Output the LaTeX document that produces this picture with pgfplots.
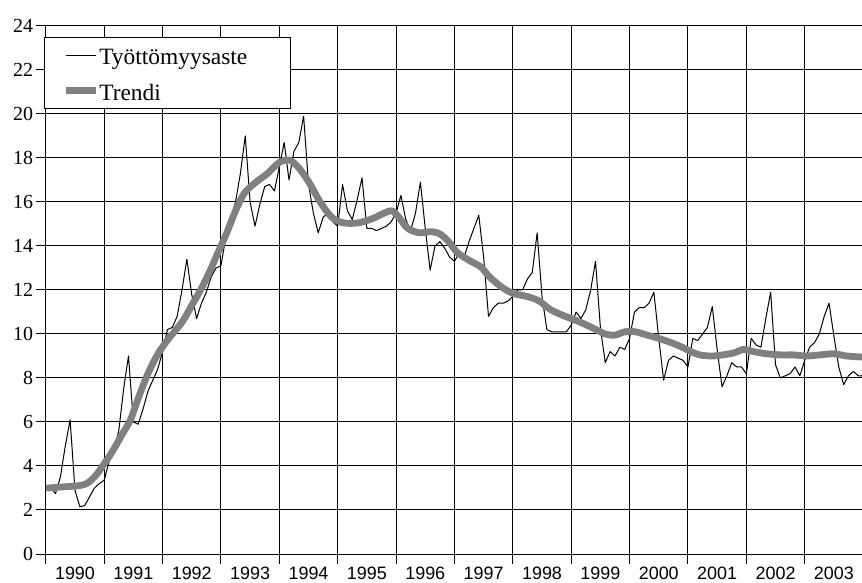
\documentclass[border=0pt]{standalone}
\usepackage{fontspec}
\setmainfont{Liberation Serif}
\setsansfont{Liberation Sans}
\usepackage{pgfplots}
\usepackage{pgfplotstable}
\pgfplotsset{compat=1.18}
\definecolor{trendgray}{RGB}{128,128,128}
\pgfplotsset{
  thinleg/.style={legend image code/.code={\path (-2.5bp,0bp) -- (27.5bp,0bp);\draw[##1, line cap=butt] (0bp,0bp) -- (25bp,0bp);}},
  thickleg/.style={legend image code/.code={\draw[##1, line cap=butt] (-2.5bp,0bp) -- (27.5bp,0bp);}},
}

\pgfplotstableread[row sep=\\]{
yr mo u\\
1990 1 3.0\\ 1990 2 2.75\\ 1990 3 3.5\\ 1990 4 4.9\\ 1990 5 6.1\\ 1990 6 2.9\\ 1990 7 2.15\\ 1990 8 2.2\\ 1990 9 2.6\\ 1990 10 3.0\\ 1990 11 3.2\\ 1990 12 3.35\\
1991 1 4.2\\ 1991 2 4.7\\ 1991 3 5.6\\ 1991 4 7.5\\ 1991 5 9.0\\ 1991 6 6.0\\ 1991 7 5.9\\ 1991 8 6.6\\ 1991 9 7.4\\ 1991 10 7.9\\ 1991 11 8.4\\ 1991 12 9.2\\
1992 1 10.2\\ 1992 2 10.3\\ 1992 3 10.8\\ 1992 4 12.0\\ 1992 5 13.4\\ 1992 6 11.8\\ 1992 7 10.7\\ 1992 8 11.4\\ 1992 9 11.9\\ 1992 10 12.6\\ 1992 11 13.0\\ 1992 12 13.1\\
1993 1 14.4\\ 1993 2 15.2\\ 1993 3 16.0\\ 1993 4 17.3\\ 1993 5 19.0\\ 1993 6 16.0\\ 1993 7 14.9\\ 1993 8 15.9\\ 1993 9 16.7\\ 1993 10 16.8\\ 1993 11 16.5\\ 1993 12 17.6\\
1994 1 18.7\\ 1994 2 17.0\\ 1994 3 18.3\\ 1994 4 18.7\\ 1994 5 19.9\\ 1994 6 16.8\\ 1994 7 15.5\\ 1994 8 14.6\\ 1994 9 15.3\\ 1994 10 15.5\\ 1994 11 15.1\\ 1994 12 14.9\\
1995 1 16.8\\ 1995 2 15.6\\ 1995 3 15.2\\ 1995 4 16.1\\ 1995 5 17.1\\ 1995 6 14.8\\ 1995 7 14.8\\ 1995 8 14.7\\ 1995 9 14.8\\ 1995 10 14.9\\ 1995 11 15.1\\ 1995 12 15.5\\
1996 1 16.3\\ 1996 2 15.2\\ 1996 3 14.7\\ 1996 4 15.5\\ 1996 5 16.9\\ 1996 6 14.8\\ 1996 7 12.9\\ 1996 8 14.0\\ 1996 9 14.2\\ 1996 10 13.9\\ 1996 11 13.5\\ 1996 12 13.3\\
1997 1 13.7\\ 1997 2 13.5\\ 1997 3 14.2\\ 1997 4 14.8\\ 1997 5 15.4\\ 1997 6 13.5\\ 1997 7 10.8\\ 1997 8 11.2\\ 1997 9 11.4\\ 1997 10 11.4\\ 1997 11 11.5\\ 1997 12 11.7\\
1998 1 12.0\\ 1998 2 12.0\\ 1998 3 12.5\\ 1998 4 12.8\\ 1998 5 14.6\\ 1998 6 11.7\\ 1998 7 10.2\\ 1998 8 10.1\\ 1998 9 10.1\\ 1998 10 10.1\\ 1998 11 10.1\\ 1998 12 10.4\\
1999 1 11.0\\ 1999 2 10.7\\ 1999 3 11.1\\ 1999 4 12.0\\ 1999 5 13.3\\ 1999 6 10.3\\ 1999 7 8.7\\ 1999 8 9.2\\ 1999 9 9.0\\ 1999 10 9.4\\ 1999 11 9.3\\ 1999 12 9.8\\
2000 1 11.0\\ 2000 2 11.2\\ 2000 3 11.2\\ 2000 4 11.4\\ 2000 5 11.9\\ 2000 6 9.8\\ 2000 7 7.9\\ 2000 8 8.8\\ 2000 9 9.0\\ 2000 10 8.9\\ 2000 11 8.8\\ 2000 12 8.5\\
2001 1 9.8\\ 2001 2 9.7\\ 2001 3 10.0\\ 2001 4 10.3\\ 2001 5 11.25\\ 2001 6 9.3\\ 2001 7 7.6\\ 2001 8 8.1\\ 2001 9 8.7\\ 2001 10 8.5\\ 2001 11 8.5\\ 2001 12 8.2\\
2002 1 9.8\\ 2002 2 9.5\\ 2002 3 9.4\\ 2002 4 10.7\\ 2002 5 11.9\\ 2002 6 8.6\\ 2002 7 8.0\\ 2002 8 8.1\\ 2002 9 8.2\\ 2002 10 8.5\\ 2002 11 8.1\\ 2002 12 8.8\\
2003 1 9.4\\ 2003 2 9.6\\ 2003 3 10.0\\ 2003 4 10.8\\ 2003 5 11.4\\ 2003 6 9.9\\ 2003 7 8.5\\ 2003 8 7.7\\ 2003 9 8.1\\ 2003 10 8.3\\ 2003 11 8.1\\ 2003 12 8.1\\
}\rate

\pgfplotstableread[row sep=\\]{
x y\\
1990.04 3.0\\ 1990.3 3.05\\ 1990.55 3.1\\ 1990.7 3.2\\ 1990.85 3.55\\
1991.0 4.1\\ 1991.15 4.7\\ 1991.3 5.4\\ 1991.45 6.1\\ 1991.6 7.2\\ 1991.75 8.2\\ 1991.9 9.0\\
1992.05 9.6\\ 1992.2 10.1\\ 1992.35 10.6\\ 1992.5 11.3\\ 1992.65 12.0\\ 1992.8 12.8\\ 1992.95 13.7\\
1993.1 14.6\\ 1993.25 15.6\\ 1993.4 16.4\\ 1993.6 16.9\\ 1993.8 17.3\\
1994.0 17.8\\ 1994.18 17.9\\ 1994.35 17.5\\ 1994.53 16.8\\ 1994.7 16.0\\ 1994.9 15.3\\
1995.1 15.05\\ 1995.35 15.05\\ 1995.6 15.25\\ 1995.8 15.5\\ 1995.93 15.6\\
1996.05 15.3\\ 1996.2 14.8\\ 1996.4 14.6\\ 1996.6 14.65\\ 1996.75 14.55\\ 1996.9 14.2\\
1997.05 13.7\\ 1997.25 13.35\\ 1997.45 13.05\\ 1997.6 12.6\\ 1997.8 12.15\\
1998.0 11.85\\ 1998.25 11.7\\ 1998.45 11.5\\ 1998.65 11.1\\ 1998.9 10.8\\
1999.1 10.6\\ 1999.35 10.3\\ 1999.58 10.0\\ 1999.75 9.95\\ 1999.92 10.1\\
2000.1 10.1\\ 2000.3 9.95\\ 2000.5 9.8\\ 2000.72 9.6\\ 2000.9 9.4\\
2001.05 9.2\\ 2001.2 9.05\\ 2001.4 9.0\\ 2001.6 9.05\\ 2001.8 9.15\\ 2001.95 9.3\\
2002.12 9.2\\ 2002.35 9.1\\ 2002.6 9.05\\ 2002.8 9.05\\
2003.03 9.0\\ 2003.26 9.05\\ 2003.5 9.1\\ 2003.72 9.0\\ 2004.0 8.95\\
}\trend

\begin{document}
\begin{tikzpicture}
\begin{axis}[
  scale only axis, width=817.3bp, height=528bp,
  xmin=1990, xmax=2004, ymin=0, ymax=24,
  axis line style={draw=none},
  xtick={1990,1991,1992,1993,1994,1995,1996,1997,1998,1999,2000,2001,2002,2003,2004},
  x tick label as interval,
  xticklabels={1990,1991,1992,1993,1994,1995,1996,1997,1998,1999,2000,2001,2002,2003,{}},
  ytick={0,2,4,6,8,10,12,14,16,18,20,22,24},
  yticklabels={0,2,4,6,8,10,12,14,16,18,20,22,24},
  tick pos=left,
  grid=major,
  major grid style={black, line width=1bp},
  tick align=outside,
  major tick length=9.5bp,
  tick style={black, line width=1bp},
  xticklabel style={font=\fontsize{18}{20}\selectfont\sffamily, inner ysep=3bp},
  yticklabel style={font=\fontsize{20}{22}\selectfont, inner xsep=3bp},
  legend cell align=left,
  legend style={at={(axis description cs:0,1)}, anchor=north west,
    xshift=-1.8bp, yshift=-11bp, draw=black, line width=1bp, fill=white,
    inner xsep=18bp, inner ysep=0bp, row sep=0bp,
    nodes={inner sep=0bp, text height=27.3bp, text depth=8.2bp},
    font=\fontsize{23.5}{26}\selectfont},
]
\addplot[black, line width=1bp, line join=round, thinleg] table[x expr=\thisrow{yr}+\thisrow{mo}/12, y=u] {\rate};
\addlegendentry{Työttömyysaste\hspace*{25bp}}
\addplot[trendgray, line width=6.8bp, line join=round, line cap=round, smooth, thickleg] table[x=x, y=y] {\trend};
\addlegendentry{Trendi}
\coordinate (SW) at (rel axis cs:0,0);
\coordinate (NE) at (rel axis cs:1,1);
\end{axis}
\pgfresetboundingbox
\path[use as bounding box] ([xshift=-45.8bp,yshift=-29bp]SW) rectangle ([xshift=-1.1bp,yshift=26bp]NE);
\end{tikzpicture}
\end{document}
